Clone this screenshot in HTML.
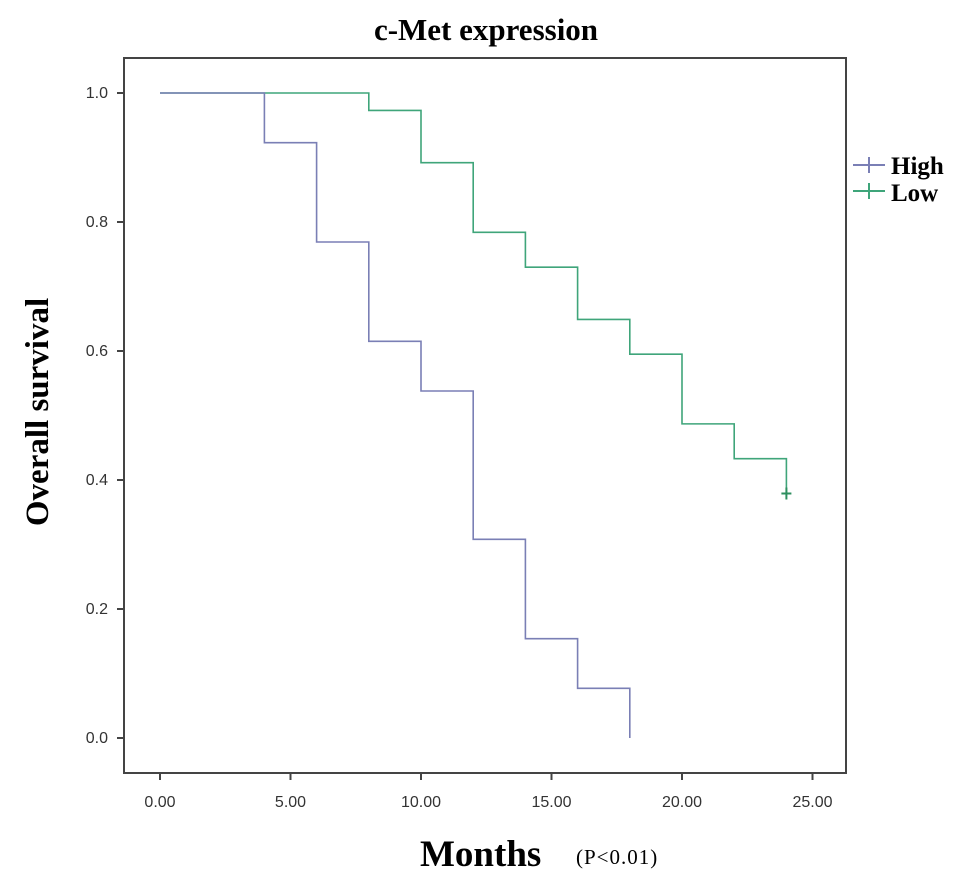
<!DOCTYPE html>
<html><head><meta charset="utf-8"><style>
html,body{margin:0;padding:0;background:#fff;}
svg{display:block;}
</style></head><body>
<svg id="chart" width="969" height="883" xmlns="http://www.w3.org/2000/svg">
<text x="486" y="40" text-anchor="middle" font-family="Liberation Serif, serif" font-weight="bold" font-size="31">c-Met expression</text>
<rect x="124" y="58" width="722" height="715" fill="none" stroke="#444" stroke-width="2"/>
<g id="yticks"></g>
<g id="xticks"></g>
<g id="series"></g>
<text transform="translate(48,412) rotate(-90)" text-anchor="middle" font-family="Liberation Serif, serif" font-weight="bold" font-size="33">Overall survival</text>
<text x="420" y="866" font-family="Liberation Serif, serif" font-weight="bold" font-size="37">Months</text>
<text x="576" y="864" font-family="Liberation Serif, serif" font-size="21" letter-spacing="1">(P&lt;0.01)</text>
<g>
<g>
<line x1="853" y1="165" x2="885" y2="165" stroke="#7a7fb5" stroke-width="2"/>
<line x1="869" y1="157" x2="869" y2="173" stroke="#7a7fb5" stroke-width="2"/>
<text x="891" y="174" font-family="Liberation Serif, serif" font-weight="bold" font-size="25">High</text>
</g>
<g>
<line x1="853" y1="191" x2="885" y2="191" stroke="#3fa57a" stroke-width="2"/>
<line x1="869" y1="183" x2="869" y2="199" stroke="#3fa57a" stroke-width="2"/>
<text x="891" y="201" font-family="Liberation Serif, serif" font-weight="bold" font-size="25">Low</text>
</g>
</g>
</svg>
<script>
const xTicks=[0,5,10,15,20,25];
const xTickLabels=["0.00","5.00","10.00","15.00","20.00","25.00"];
const yTicks=[0,0.2,0.4,0.6,0.8,1.0];
const yTickLabels=["0.0","0.2","0.4","0.6","0.8","1.0"];
const highTimes=[0,4,6,8,10,12,14,16,18];
const highSurv=[1,0.923,0.769,0.615,0.538,0.308,0.154,0.077,0.0];
const highEnd=18;
const lowTimes=[0,8,10,12,14,16,18,20,22,24];
const lowSurv=[1,0.973,0.892,0.784,0.730,0.649,0.595,0.487,0.433,0.379];
const lowEnd=24;
const lowCensor=[24];

const NS="http://www.w3.org/2000/svg";
function xs(v){return 160+v*26.1;}
function ys(v){return 738-v*645;}
function mk(tag,attrs,parent){const e=document.createElementNS(NS,tag);for(const k in attrs)e.setAttribute(k,attrs[k]);parent.appendChild(e);return e;}
const yg=document.getElementById('yticks');
yTicks.forEach((t,i)=>{
 const l=mk('line',{x1:117,x2:124,y1:ys(t),y2:ys(t),stroke:'#444','stroke-width':2},yg);
 
 
 const tx=mk('text',{x:108,y:ys(t)+5,'text-anchor':'end','font-family':'Liberation Sans, sans-serif','font-size':16,fill:'#333'},yg);
 tx.textContent=yTickLabels[i];
 
 
});
const xg=document.getElementById('xticks');
xTicks.forEach((t,i)=>{
 const l=mk('line',{x1:xs(t),x2:xs(t),y1:773,y2:780,stroke:'#444','stroke-width':2},xg);
 
 
 const tx=mk('text',{x:xs(t),y:807,'text-anchor':'middle','font-family':'Liberation Sans, sans-serif','font-size':16,fill:'#333'},xg);
 tx.textContent=xTickLabels[i];
 
 
});
function stepPath(t,s,end){
 let d='M'+xs(t[0])+','+ys(s[0]);
 for(let i=1;i<t.length;i++){d+=' H'+xs(t[i])+' V'+ys(s[i]);}
 d+=' H'+xs(end);
 return d;
}
const sg=document.getElementById('series');
const pl=mk('path',{d:stepPath(lowTimes,lowSurv,lowEnd),fill:'none',stroke:'#3fa57a','stroke-width':1.6},sg);


const ph=mk('path',{d:stepPath(highTimes,highSurv,highEnd),fill:'none',stroke:'#7a7fb5','stroke-width':1.6},sg);


lowCensor.forEach(c=>{
 const y=ys(lowSurv[lowSurv.length-1]);
 const g=mk('path',{d:'M'+(xs(c)-5)+','+y+' H'+(xs(c)+5)+' M'+xs(c)+','+(y-6)+' V'+(y+6),stroke:'#2e8f5f','stroke-width':2},sg);
 
 
});
</script>
</body></html>
